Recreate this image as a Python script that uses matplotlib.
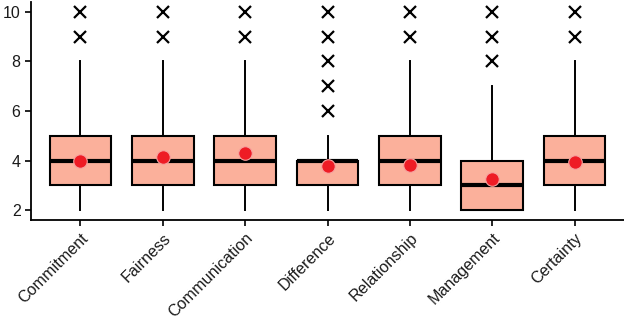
import matplotlib
matplotlib.use("Agg")
import matplotlib.pyplot as plt

categories = ["Commitment", "Fairness", "Communication", "Difference",
              "Relationship", "Management", "Certainty"]
q1 = [3, 3, 3, 3, 3, 2, 3]
median = [4, 4, 4, 4, 4, 3, 4]
q3 = [5, 5, 5, 4, 5, 4, 5]
whislo = [2, 2, 2, 2, 2, 2, 2]
whishi = [8, 8, 8, 5, 8, 7, 8]
means = [3.97, 4.16, 4.32, 3.78, 3.84, 3.24, 3.94]
outliers = [[9, 10], [9, 10], [9, 10], [6, 7, 8, 9, 10],
            [9, 10], [8, 9, 10], [9, 10]]

plt.rcParams['font.family'] = ['Liberation Sans', 'DejaVu Sans']

fig = plt.figure(figsize=(6.24, 3.21), dpi=100)
ax = fig.add_axes([31/624, 101/321, 593/624, 218/321])

stats = []
for i, c in enumerate(categories):
    stats.append(dict(label=c, q1=q1[i], med=median[i], q3=q3[i],
                      whislo=whislo[i], whishi=whishi[i], fliers=outliers[i]))

pos = list(range(1, len(categories) + 1))
ax.bxp(stats, positions=pos, widths=0.75, patch_artist=True,
       showcaps=False,
       boxprops=dict(facecolor="#FBB09B", edgecolor="black", linewidth=1.5),
       medianprops=dict(color="black", linewidth=3.0, solid_capstyle="butt"),
       whiskerprops=dict(color="black", linewidth=1.4),
       flierprops=dict(marker="x", markeredgecolor="black", markersize=8,
                       markeredgewidth=1.6, linestyle="none"))

ax.scatter(pos, means, s=95, color="#EE1C25", edgecolor="#F7A3A0",
           linewidth=0.8, zorder=5)

ax.set_xlim(0.4, 7.6)
ax.set_ylim(1.6, 10.4)
ax.set_yticks([2, 4, 6, 8, 10])
ax.set_xticks(pos)
ax.set_xticklabels(categories, rotation=45, ha="right", rotation_mode="anchor",
                   fontsize=11.6, color="#1a1a1a")
ax.tick_params(axis="y", labelsize=11.5, labelcolor="#1a1a1a", length=4, width=1.2)
ax.tick_params(axis="x", length=4, width=1.2)
for s in ["top", "right"]:
    ax.spines[s].set_visible(False)
for s in ["left", "bottom"]:
    ax.spines[s].set_linewidth(1.3)

fig.savefig("out.png", dpi=100)
